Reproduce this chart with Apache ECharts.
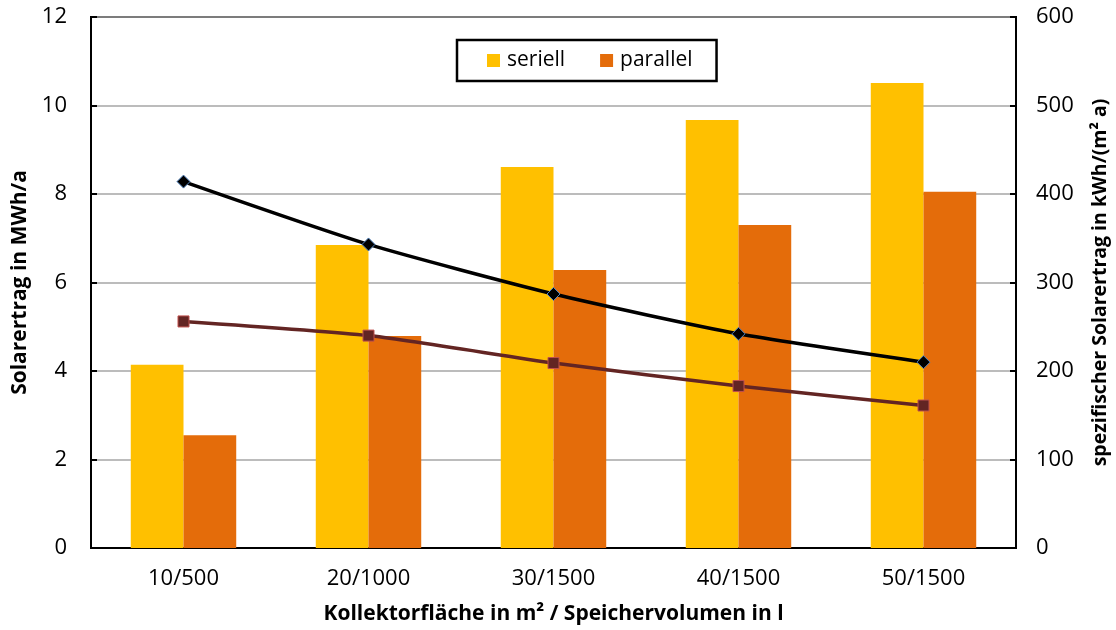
<!DOCTYPE html>
<html><head><meta charset="utf-8">
<script src="https://cdn.jsdelivr.net/npm/echarts@6/dist/echarts.min.js"></script>
<style>html,body{margin:0;padding:0;background:#fff}#c{width:1116px;height:630px}</style>
</head><body><div id="c"></div>
<script>
const categories = ['10/500','20/1000','30/1500','40/1500','50/1500'];
const seriell = [4.14, 6.85, 8.61, 9.67, 10.51];
const parallel = [2.55, 4.79, 6.28, 7.30, 8.05];
const spezSeriell = [414, 343, 287, 242, 210];
const spezParallel = [256, 240, 209, 183, 161];
const leftTicks = {min: 0, max: 12, interval: 2};
const rightTicks = {min: 0, max: 600, interval: 100};

const FONT = '"Open Sans", sans-serif';
const chart = echarts.init(document.getElementById('c'), null, {renderer: 'canvas'});
chart.setOption({
  animation: false,
  backgroundColor: '#fff',
  textStyle: {fontFamily: FONT, color: '#000'},
  grid: {left: 91, right: 100, top: 17, bottom: 82, show: true, borderColor: '#000', borderWidth: 2,
         containLabel: false, outerBoundsMode: 'none'},
  legend: {
    data: ['seriell', 'parallel'],
    left: 457, top: 40,
    itemWidth: 13, itemHeight: 13, itemGap: 35,
    padding: [10, 24, 10, 30],
    borderColor: '#000', borderWidth: 2.5,
    icon: 'rect',
    textStyle: {fontFamily: FONT, fontSize: 21, color: '#000', padding: [0, 0, 0, 2]}
  },
  xAxis: {
    type: 'category', data: categories,
    axisLine: {lineStyle: {color: '#000', width: 2}},
    axisTick: {inside: true, length: 7, lineStyle: {color: '#000', width: 2}},
    axisLabel: {fontFamily: FONT, fontSize: 22, color: '#000', margin: 20},
    name: 'Kollektorfläche in m² / Speichervolumen in l',
    nameLocation: 'middle', nameGap: 56,
    nameTextStyle: {fontFamily: FONT, fontSize: 21, fontWeight: 'bold', color: '#000'}
  },
  yAxis: [{
    type: 'value', min: leftTicks.min, max: leftTicks.max, interval: leftTicks.interval,
    axisLine: {show: true, lineStyle: {color: '#000', width: 2}},
    axisTick: {show: true, inside: true, length: 6, lineStyle: {color: '#000', width: 2}},
    axisLabel: {fontFamily: FONT, fontSize: 22, color: '#000', margin: 24},
    splitLine: {show: true, lineStyle: {color: '#a6a6a6', width: 1.5}},
    name: 'Solarertrag in MWh/a', nameLocation: 'middle', nameGap: 58, nameRotate: 90,
    nameTextStyle: {fontFamily: FONT, fontSize: 21, fontWeight: 'bold', color: '#000'}
  }, {
    type: 'value', position: 'right', min: rightTicks.min, max: rightTicks.max, interval: rightTicks.interval,
    axisLine: {show: true, lineStyle: {color: '#000', width: 2}},
    axisTick: {show: true, inside: true, length: 6, lineStyle: {color: '#000', width: 2}},
    axisLabel: {fontFamily: FONT, fontSize: 22, color: '#000', margin: 20},
    splitLine: {show: false},
    name: 'spezifischer Solarertrag in kWh/(m² a)', nameLocation: 'middle', nameGap: 74, nameRotate: 90,
    nameTextStyle: {fontFamily: FONT, fontSize: 19.5, fontWeight: 'bold', color: '#000'}
  }],
  series: [
    {name: 'seriell', type: 'bar', data: seriell, barGap: '0%', barCategoryGap: '43%',
     itemStyle: {color: '#FFC000'}, z: 2},
    {name: 'parallel', type: 'bar', data: parallel,
     itemStyle: {color: '#E46C0A'}, z: 2},
    {name: 'spez. seriell', type: 'line', yAxisIndex: 1, data: spezSeriell, smooth: 0.2,
     lineStyle: {color: '#000', width: 3.5}, symbol: 'diamond', symbolSize: 13,
     itemStyle: {color: '#000', borderColor: '#4F81BD', borderWidth: 1}, z: 5},
    {name: 'spez. parallel', type: 'line', yAxisIndex: 1, data: spezParallel, smooth: 0.2,
     lineStyle: {color: '#632523', width: 3.5}, symbol: 'rect', symbolSize: 11,
     itemStyle: {color: '#632523', borderColor: '#C0504D', borderWidth: 1}, z: 5}
  ]
});
</script></body></html>
